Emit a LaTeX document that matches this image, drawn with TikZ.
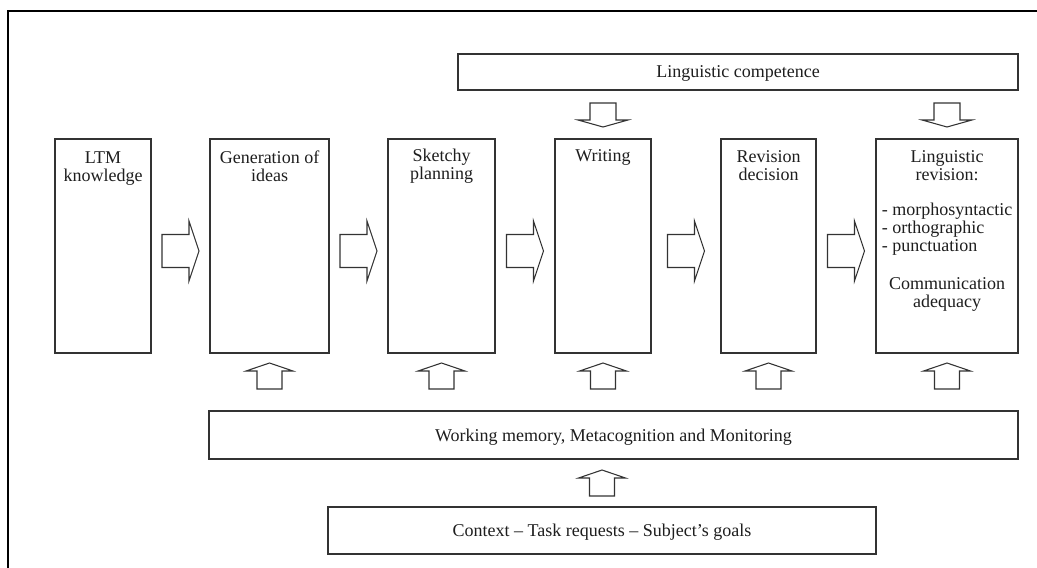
\documentclass[tikz,border=0pt]{standalone}
\usepackage{fontspec}
\setmainfont{Liberation Serif}
\usetikzlibrary{calc}
\definecolor{ink}{HTML}{1E1E1E}
\definecolor{linec}{HTML}{333333}
\newcommand{\mybox}[5]{\node[box, minimum width={(#4-#2)*0.75pt}, minimum height={(#5-#3)*0.75pt}] (#1) at ({(#2+#4)/2},{(#3+#5)/2}) {};}
\begin{document}
\begin{tikzpicture}[x=0.75pt,y=-0.75pt,
  box/.style={draw=linec, line width=0.9pt, inner sep=0pt, outer sep=0pt, fill=white},
  txt/.style={text=ink, inner sep=0pt, font=\fontsize{13.5pt}{13.5pt}\selectfont, align=center},
  arr/.style={draw=linec, line width=0.8pt, fill=white, line join=miter},
  rarr/.pic={\path[arr] (-18.5,-16.5) -- (8.5,-16.5) -- (8.5,-30) -- (18.5,0) -- (8.5,30) -- (8.5,16.5) -- (-18.5,16.5) -- cycle;},
  uarr/.pic={\path[arr] (-12.5,26) -- (-12.5,8) -- (-23.5,8) -- (0,0) -- (23.5,8) -- (12.5,8) -- (12.5,26) -- cycle;},
  darr/.pic={\path[arr] (-13,-24) -- (-13,-7) -- (-25,-7) -- (0,0) -- (25,-7) -- (13,-7) -- (13,-24) -- cycle;}
]
\useasboundingbox (0,0) rectangle (1037,567);
\clip (0,0) rectangle (1037,567);
\draw[line width=1.2pt, black] (8,11) rectangle (1060,590);

% process boxes
\mybox{ltm}{55}{139}{151}{353}
\mybox{gen}{210}{139}{329}{353}
\mybox{sketch}{388}{139}{495}{353}
\mybox{writ}{555}{139}{651}{353}
\mybox{revd}{721}{139}{816}{353}
\mybox{lrev}{876}{139}{1018}{353}
% horizontal boxes
\mybox{comp}{458}{54}{1018}{90}
\mybox{wm}{209}{411}{1018}{459}
\mybox{ctx}{328}{507}{876}{554}

% texts
\node[txt, anchor=north] (ltmT) at ($(ltm.north)+(0,11.5)$) {\strut LTM\\knowledge};
\node[txt, anchor=north] (genT) at ($(gen.north)+(0,11.5)$) {\strut Generation of\\ideas};
\node[txt, anchor=north] (sketchT) at ($(sketch.north)+(0,10)$) {\strut Sketchy\\planning};
\node[txt, anchor=north] (writT) at ($(writ.north)+(0,10)$) {\strut Writing};
\node[txt, anchor=north] (revdT) at ($(revd.north)+(0,10.5)$) {\strut Revision\\decision};
\node[txt, anchor=north] (lrevT) at ($(lrev.north)+(0,10.5)$) {\strut Linguistic\\revision:};
\node[txt, anchor=north, align=left] (lrevL) at (947,202.4) {\strut - morphosyntactic\\- orthographic\\- punctuation};
\node[txt, anchor=north] (lrevC) at (947,276.4) {\strut Communication\\adequacy};
\node[txt, anchor=base] (compT) at (738,77) {Linguistic competence};
\node[txt, anchor=base] (wmT) at (613.5,441) {Working memory, Metacognition and Monitoring};
\node[txt, anchor=base] (ctxT) at (602,536) {Context -- Task requests -- Subject's goals};

% right block arrows between process boxes
\pic (a1) at ($(ltm.east)!.5!(gen.west)+(0,5)$) {rarr};
\pic (a2) at ($(gen.east)!.5!(sketch.west)+(0,5)$) {rarr};
\pic (a3) at ($(sketch.east)!.5!(writ.west)+(0,5)$) {rarr};
\pic (a4) at ($(writ.east)!.5!(revd.west)+(0,5)$) {rarr};
\pic (a5) at ($(revd.east)!.5!(lrev.west)+(0,5)$) {rarr};

% up arrows from working memory
\pic (u1) at ($(gen.south)+(0,10)$) {uarr};
\pic (u2) at ($(sketch.south)+(0,10)$) {uarr};
\pic (u3) at ($(writ.south)+(0,10)$) {uarr};
\pic (u4) at ($(revd.south)+(0,10)$) {uarr};
\pic (u5) at ($(lrev.south)+(0,10)$) {uarr};

% up arrow from context to working memory
\pic (u6) at ($(ctx.north |- wm.south)+(0,11)$) {uarr};

% down arrows from linguistic competence
\pic (d1) at ($(writ.north)+(0,-12)$) {darr};
\pic (d2) at ($(lrev.north)+(0,-12)$) {darr};
\end{tikzpicture}
\end{document}
